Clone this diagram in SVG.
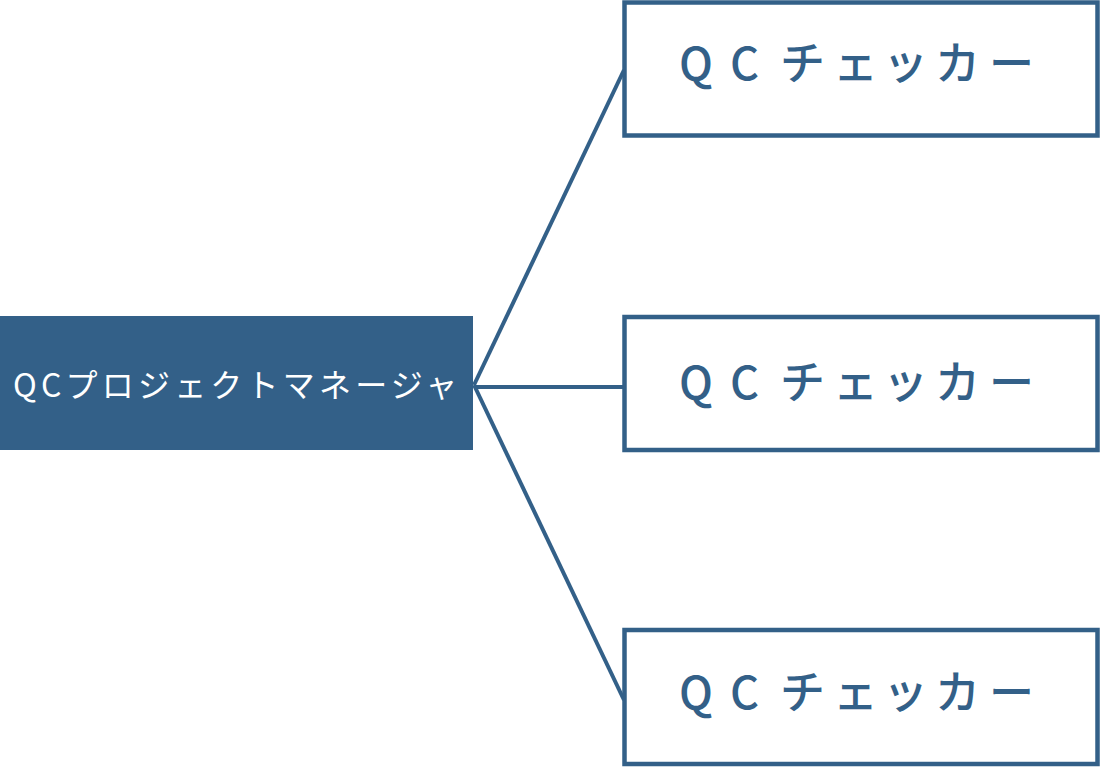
<svg xmlns="http://www.w3.org/2000/svg" width="1100" height="767" viewBox="0 0 1100 767">
<style>
.box{fill:#ffffff;stroke:#336088;stroke-width:4.5}
.lbl{font-family:"Noto Sans CJK JP","Noto Sans",sans-serif;font-size:45px;font-weight:500;fill:#336088}
.main{font-family:"Noto Sans CJK JP","Noto Sans",sans-serif;font-size:32px;font-weight:400;fill:#ffffff;letter-spacing:4.2px}
.conn{stroke:#336088;stroke-width:4;fill:none}
</style>
<rect width="1100" height="767" fill="#ffffff"/>
<g id="connectors">
<line class="conn" x1="474" y1="385" x2="624" y2="70"/>
<line class="conn" x1="474" y1="387" x2="624" y2="387"/>
<line class="conn" x1="474" y1="385" x2="624" y2="700"/>
</g>
<g id="manager">
<rect x="0" y="316" width="473" height="134" fill="#336088"/>
<text class="main" x="13" y="397">QCプロジェクトマネージャ</text>
</g>
<g id="checker1">
<rect class="box" x="624.5" y="2.5" width="473" height="133"/>
<text class="lbl" x="679 730 780 833 883 935 989" y="80">QCチェッカー</text>
</g>
<g id="checker2">
<rect class="box" x="624.5" y="317" width="473" height="133"/>
<text class="lbl" x="679 730 780 833 883 935 989" y="399">QCチェッカー</text>
</g>
<g id="checker3">
<rect class="box" x="624.5" y="630" width="473" height="134"/>
<text class="lbl" x="679 730 780 833 883 935 989" y="709">QCチェッカー</text>
</g>
</svg>
